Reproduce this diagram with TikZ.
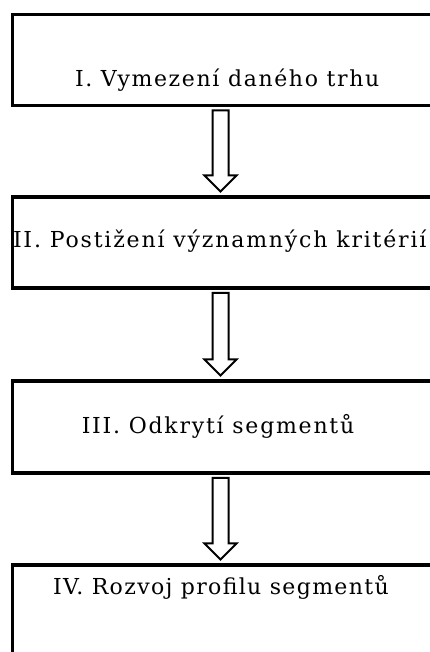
\documentclass[tikz,border=0pt]{standalone}
\usepackage{fontspec}
\setmainfont{DejaVu Serif}
\usetikzlibrary{calc}
\newcommand\blockarrow[3]{%
  \draw[blk] ($(#1.south -| #3)+(-8,-5)$) -- ($(#1.south -| #3)+(8,-5)$)
    -- ($(#2.north -| #3)+(8,21.5)$) -- ($(#2.north -| #3)+(16,21.5)$)
    -- ($(#2.north -| #3)+(0,5.5)$) -- ($(#2.north -| #3)+(-16,21.5)$)
    -- ($(#2.north -| #3)+(-8,21.5)$) -- cycle;}
\begin{document}
\begin{tikzpicture}[x=1pt,y=1pt,
  box/.style={draw, line width=3.5pt, rectangle, inner sep=0pt, outer sep=0pt, minimum width=437.5pt},
  lbl/.style={anchor=base west, inner sep=0pt, outer sep=0pt},
  lsp/.style={font=\fontsize{22}{26}\selectfont\addfontfeatures{LetterSpace=#1}},
  blk/.style={draw, line width=2pt, fill=white, line join=miter}]
\useasboundingbox (0,0) rectangle (430,652);
\clip (0,0) rectangle (430,652);
\node[box, minimum height=91pt] (b1) at (231.25,592) {};
\node[box, minimum height=91pt] (b2) at (231.25,409.5) {};
\node[box, minimum height=92pt] (b3) at (231.25,225) {};
\node[box, minimum height=115pt] (b4) at (231.25,29.5) {};
\coordinate (ax) at (220.5,0);
\node[lbl, lsp=7.4] (t1) at (75,565) {I. Vymezení daného trhu};
\node[lbl, lsp=8.3] (t2) at (13,404) {II. Postižení významných kritérií};
\node[lbl, anchor=base, lsp=8] (t3) at (218,218) {III. Odkrytí segmentů};
\node[lbl, lsp=6.2] (t4) at (53,57) {IV. Rozvoj profilu segmentů};
\blockarrow{b1}{b2}{ax}
\blockarrow{b2}{b3}{ax}
\blockarrow{b3}{b4}{ax}
\end{tikzpicture}
\end{document}
